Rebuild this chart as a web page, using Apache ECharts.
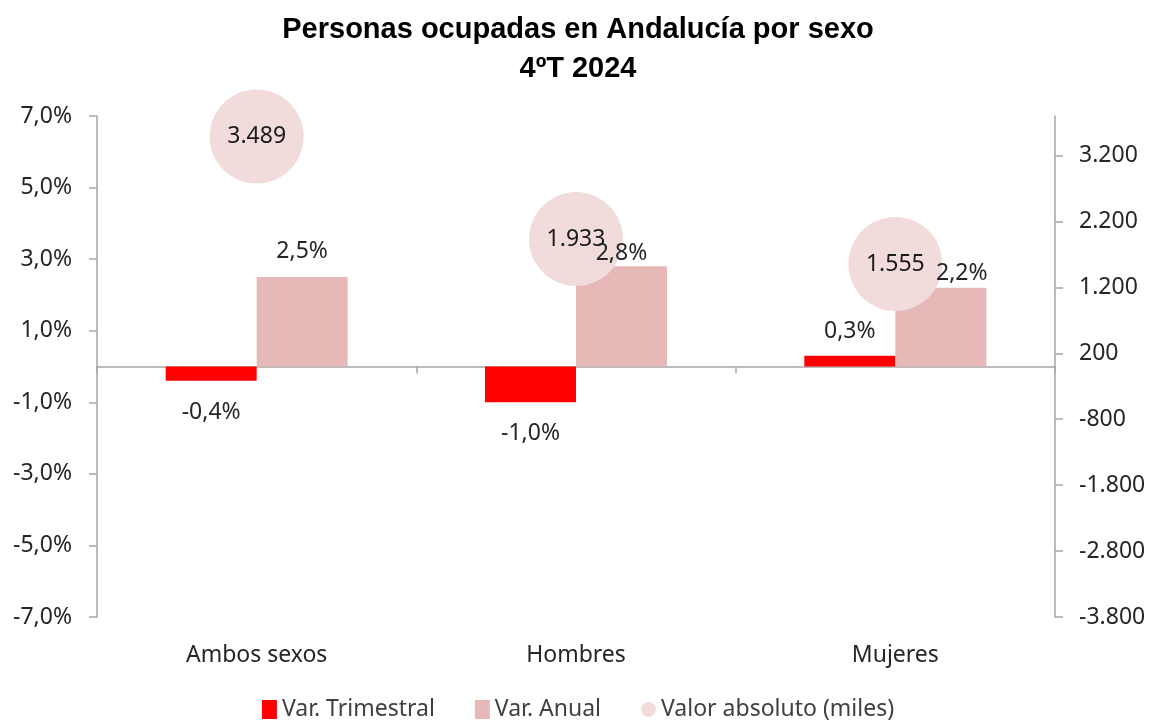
<!DOCTYPE html>
<html>
<head>
<meta charset="utf-8">
<script src="https://cdn.jsdelivr.net/npm/echarts@6/dist/echarts.min.js"></script>
<style>
	html, body { margin: 0; padding: 0; background: #fff; }
	#chart { width: 1156px; height: 720px; }
</style>
</head>
<body>
<div id="chart"></div>
<script>
	// datos
	const categorias = ['Ambos sexos', 'Hombres', 'Mujeres']
	const varTrimestral = [-0.4, -1.0, 0.3]
	const varAnual = [2.5, 2.8, 2.2]
	const valorAbsoluto = [3489, 1933, 1555]
	const ticksIzq = [-7, -5, -3, -1, 1, 3, 5, 7]
	const ticksDer = [-3800, -2800, -1800, -800, 200, 1200, 2200, 3200]

	const fuente = 'Noto Sans'
	const gris = '#a6a6a6'
	const txt = '#262626'

	// ajustes manuales de las etiquetas de Var. Anual (como en el original)
	const ajusteAnual = [
		{ distance: 14, offset: [0, 0] },
		{ distance: 1, offset: [0, 0] },
		{ distance: 3, offset: [21, 0] }
	]

	function pct(v) {
		return v.toFixed(1).replace('.', ',') + '%'
	}
	function miles(v) {
		let s = Math.abs(v).toString().replace(/\B(?=(\d{3})+(?!\d))/g, '.')
		return (v < 0 ? '-' : '') + s
	}

	let mychart = echarts.init(document.getElementById('chart'))
	let option = {
		animation: false,
		title: {
			text: 'Personas ocupadas en Andalucía por sexo\n4ºT 2024',
			left: 'center',
			top: 5,
			textStyle: {
				fontFamily: 'Liberation Sans',
				fontWeight: 'bold',
				fontSize: 29,
				lineHeight: 39,
				color: '#000'
			}
		},
		legend: {
			top: 693,
			left: 'center',
			itemGap: 40,
			itemWidth: 15,
			itemHeight: 19,
			textStyle: { fontFamily: fuente, fontSize: 23, color: '#404040' },
			data: [
				{ name: 'Var. Trimestral', icon: 'rect' },
				{ name: 'Var. Anual', icon: 'rect' },
				{ name: 'Valor absoluto (miles)', icon: 'circle' }
			]
		},
		grid: { left: 97, right: 101, top: 116, bottom: 103 },
		xAxis: [
			{
				type: 'category',
				data: categorias,
				axisLine: { show: false, onZero: false },
				axisTick: { show: false },
				axisLabel: { fontFamily: fuente, fontSize: 23, color: txt, margin: 27 }
			},
			{
				type: 'category',
				data: categorias,
				position: 'bottom',
				axisLine: { onZero: true, lineStyle: { color: gris, width: 1.5 } },
				axisTick: { show: true, length: 7, lineStyle: { color: gris, width: 1.5 } },
				axisLabel: { show: false }
			}
		],
		yAxis: [
			{
				type: 'value',
				min: -7,
				max: 7,
				interval: 2,
				splitLine: { show: false },
				axisLine: { show: true, lineStyle: { color: gris, width: 1.5 } },
				axisTick: { show: true, length: 8, customValues: ticksIzq, lineStyle: { color: gris, width: 1.5 } },
				axisLabel: {
					customValues: ticksIzq,
					fontFamily: fuente, fontSize: 23, color: txt, margin: 25,
					formatter: v => pct(v)
				}
			},
			{
				type: 'value',
				min: -3800,
				max: 3800,
				interval: 1000,
				position: 'right',
				splitLine: { show: false },
				axisLine: { show: true, lineStyle: { color: gris, width: 1.5 } },
				axisTick: { show: true, length: 8, customValues: ticksDer, lineStyle: { color: gris, width: 1.5 } },
				axisLabel: {
					customValues: ticksDer,
					fontFamily: fuente, fontSize: 23, color: txt, margin: 24,
					formatter: v => miles(v)
				}
			}
		],
		series: [
			{
				name: 'Var. Trimestral',
				type: 'bar',
				xAxisIndex: 0,
				yAxisIndex: 0,
				barWidth: 91,
				barGap: '0%',
				z: 2,
				itemStyle: { color: '#ff0000' },
				data: varTrimestral
			},
			{
				name: 'Var. Anual',
				type: 'bar',
				xAxisIndex: 0,
				yAxisIndex: 0,
				barWidth: 91,
				barGap: '0%',
				z: 2,
				itemStyle: { color: '#e6b9b8' },
				data: varAnual
			},
			{
				name: 'Valor absoluto (miles)',
				type: 'scatter',
				xAxisIndex: 0,
				yAxisIndex: 1,
				symbolSize: 94,
				z: 3,
				itemStyle: { color: '#f2dcdb', opacity: 1 },
				label: {
					show: true,
					position: 'inside',
					fontFamily: fuente, fontSize: 23, color: '#1a1a1a',
					formatter: p => miles(p.value)
				},
				data: valorAbsoluto
			},
			// etiquetas de las barras, por encima de las burbujas
			{
				name: 'etiquetas trimestral',
				type: 'bar',
				xAxisIndex: 1,
				yAxisIndex: 0,
				barWidth: 91,
				barGap: '0%',
				z: 4,
				silent: true,
				itemStyle: { color: 'rgba(0,0,0,0)' },
				label: {
					show: true,
					fontFamily: fuente, fontSize: 23, color: txt,
					formatter: p => pct(p.value)
				},
				data: varTrimestral.map(v => ({
					value: v,
					label: { position: v < 0 ? 'bottom' : 'top', distance: v < 0 ? 20 : 13 }
				}))
			},
			{
				name: 'etiquetas anual',
				type: 'bar',
				xAxisIndex: 1,
				yAxisIndex: 0,
				barWidth: 91,
				barGap: '0%',
				z: 4,
				silent: true,
				itemStyle: { color: 'rgba(0,0,0,0)' },
				label: {
					show: true,
					position: 'top',
					fontFamily: fuente, fontSize: 23, color: txt,
					formatter: p => pct(p.value)
				},
				data: varAnual.map((v, i) => ({
					value: v,
					label: { distance: ajusteAnual[i].distance, offset: ajusteAnual[i].offset }
				}))
			}
		]
	}
	mychart.setOption(option)
</script>
</body>
</html>
